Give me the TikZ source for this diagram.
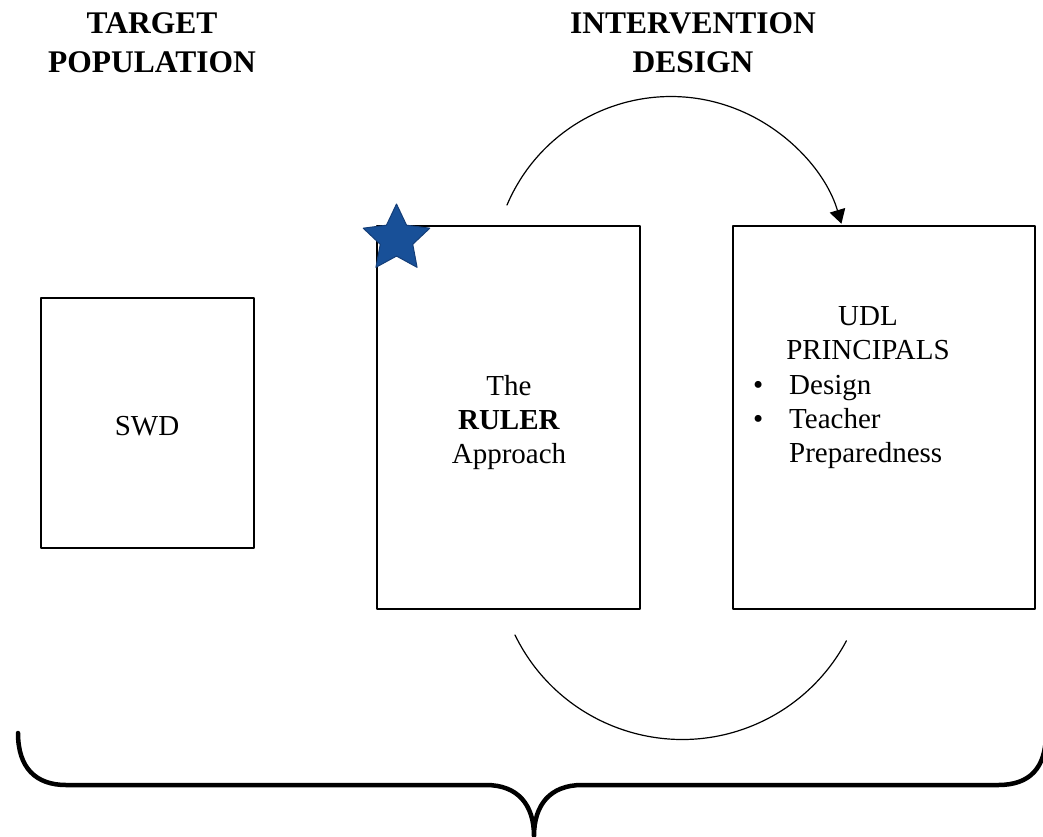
\documentclass[tikz,border=0pt]{standalone}
\usepackage{fontspec}
\setmainfont{Liberation Serif}
\usetikzlibrary{arrows.meta,shapes.geometric}
\definecolor{starblue}{RGB}{24,80,152}
\definecolor{stardark}{RGB}{20,62,120}
\tikzset{
  box/.style={draw, line width=2.3pt, inner sep=0pt},
  txt/.style={font=\fontsize{29}{34}\selectfont, inner sep=0pt, align=center},
  head/.style={font=\bfseries\fontsize{31.5}{39}\selectfont, inner sep=0pt, align=center},
}
\begin{document}
\begin{tikzpicture}[x=1pt,y=-1pt, >=stealth, line join=round, line cap=round]
		\useasboundingbox (0,0) rectangle (1043,836);
		% column headings (base = last line)
		\node[head, anchor=base] (target) at (152,72) {TARGET\\POPULATION};
		\node[head, anchor=base] (design) at (693,72) {INTERVENTION\\DESIGN};
		% boxes
		\node[box, minimum width=213pt, minimum height=250pt] (swd) at (147.5,423) {};
		\node[box, minimum width=263pt, minimum height=383pt] (ruler) at (508.5,417.5) {};
		\node[box, minimum width=302pt, minimum height=383pt] (udl) at (884,417.5) {};
		\node[star, star points=5, star point ratio=2.05, minimum size=70pt, inner sep=0pt,
			fill=starblue, draw=stardark, line width=1pt] (mark) at (396.5,239) {};
		\path 
		(147,435) node[txt, anchor=base] (swdtxt) {SWD}
		(509,463) node[txt, anchor=base] (rulertxt) {The\\\textbf{RULER}\\Approach}
		(868,359) node[txt, anchor=base] (udltxt) {UDL\\PRINCIPALS}
		(789,462) node[txt, anchor=base west, align=left] (udllist)
			{\llap{\textbullet\hspace{26pt}}Design\\\llap{\textbullet\hspace{26pt}}Teacher\\Preparedness}
		;
		% cycle arcs
		\draw[line width=1.2pt, -{Triangle[width=16pt,length=14pt]}] (507,205) arc[start angle=-157, end angle=-16.6, radius=178];
		\draw[line width=1.2pt] (515,635) arc[start angle=154, end angle=28, radius=186];
		% brace
		\draw[line width=4.5pt] (18,733) .. controls (18,768) and (36,785) .. (66,785) -- (486,785)
			.. controls (518,785) and (534,805) .. (534,836)
			.. controls (534,805) and (550,785) .. (582,785) -- (998,785)
			.. controls (1030,785) and (1046,768) .. (1046,733);
	\end{tikzpicture}
\end{document}
